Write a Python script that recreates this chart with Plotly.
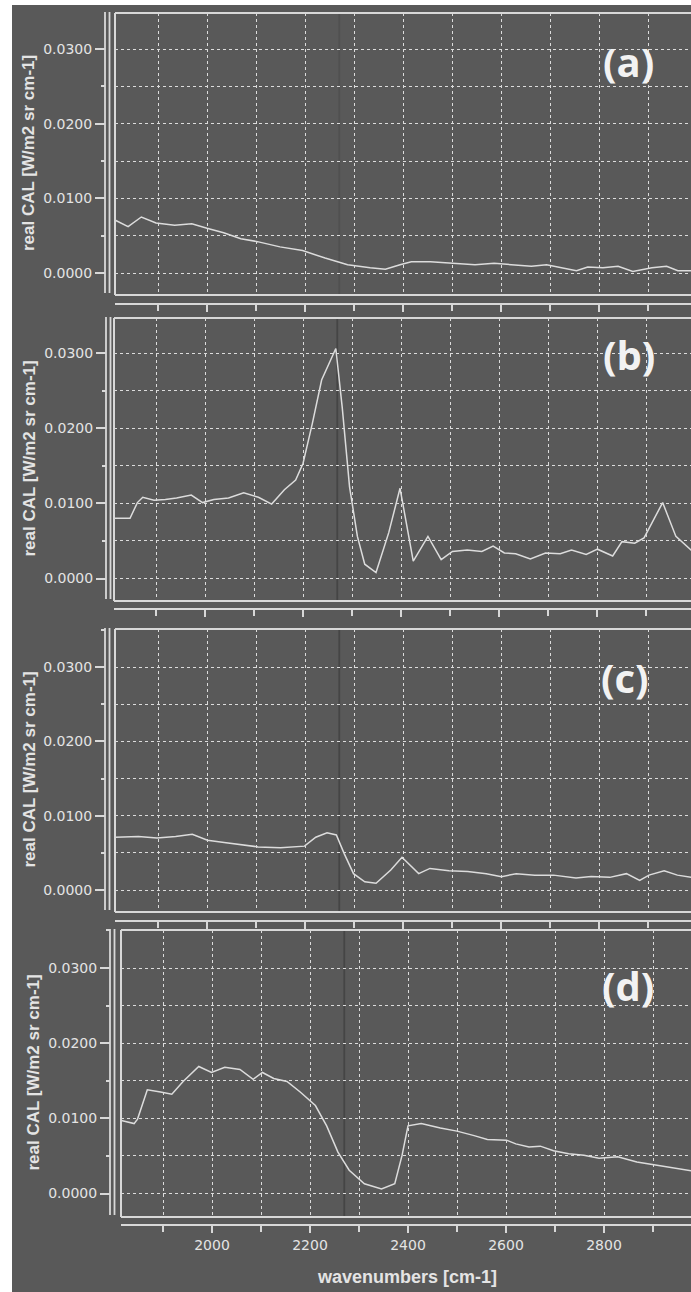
import plotly.graph_objects as go

# ---------------- data ----------------
wn_a = [1812, 1839, 1866, 1896, 1934, 1969, 2000, 2034, 2069, 2103, 2149, 2195, 2241, 2287,
        2333, 2364, 2394, 2417, 2456, 2502, 2547, 2586, 2624, 2662, 2693, 2724, 2754, 2777,
        2808, 2839, 2869, 2908, 2938, 2961, 2990]
val_a = [0.0071, 0.0062, 0.0075, 0.0067, 0.0064, 0.0066, 0.0060, 0.0054, 0.0046, 0.0042,
         0.0035, 0.0030, 0.0020, 0.0011, 0.0007, 0.0005, 0.0011, 0.0015, 0.0015, 0.0013,
         0.0011, 0.0013, 0.0011, 0.0009, 0.0011, 0.0007, 0.0003, 0.0008, 0.0007, 0.0009,
         0.0002, 0.0007, 0.0009, 0.0003, 0.0003]

wn_b = [1816, 1847, 1862, 1873, 1896, 1919, 1942, 1972, 1995, 2018, 2048, 2079, 2109, 2136,
        2162, 2185, 2200, 2219, 2238, 2267, 2280, 2295, 2311, 2326, 2349, 2375, 2398, 2425,
        2455, 2482, 2505, 2535, 2565, 2588, 2611, 2634, 2664, 2695, 2725, 2748, 2778, 2801,
        2832, 2851, 2877, 2896, 2934, 2961, 2995]
val_b = [0.0080, 0.0080, 0.0101, 0.0108, 0.0104, 0.0105, 0.0107, 0.0111, 0.0101, 0.0105,
         0.0107, 0.0114, 0.0108, 0.0099, 0.0118, 0.0131, 0.0153, 0.0206, 0.0264, 0.0306,
         0.0228, 0.0122, 0.0056, 0.0019, 0.0008, 0.0061, 0.0120, 0.0023, 0.0056, 0.0025,
         0.0036, 0.0038, 0.0036, 0.0043, 0.0034, 0.0033, 0.0026, 0.0034, 0.0033, 0.0038,
         0.0032, 0.0039, 0.0030, 0.0049, 0.0047, 0.0054, 0.0101, 0.0056, 0.0036]

wn_c = [1813, 1860, 1898, 1936, 1970, 2001, 2035, 2073, 2104, 2150, 2199, 2222, 2245, 2264,
        2280, 2299, 2322, 2345, 2375, 2398, 2432, 2455, 2494, 2532, 2570, 2601, 2631, 2669,
        2707, 2753, 2784, 2822, 2856, 2883, 2902, 2933, 2960, 2990]
val_c = [0.0071, 0.0072, 0.0070, 0.0072, 0.0075, 0.0067, 0.0064, 0.0061, 0.0058, 0.0057,
         0.0059, 0.0071, 0.0077, 0.0074, 0.0049, 0.0022, 0.0011, 0.0009, 0.0027, 0.0044,
         0.0022, 0.0029, 0.0026, 0.0025, 0.0022, 0.0018, 0.0022, 0.0020, 0.0020, 0.0016,
         0.0018, 0.0017, 0.0022, 0.0013, 0.0020, 0.0026, 0.0020, 0.0017]

wn_d = [1815, 1841, 1848, 1868, 1895, 1918, 1941, 1973, 1999, 2026, 2057, 2084, 2103, 2126,
        2153, 2180, 2211, 2234, 2257, 2280, 2311, 2346, 2373, 2388, 2400, 2427, 2466, 2500,
        2535, 2562, 2601, 2620, 2647, 2670, 2697, 2728, 2759, 2790, 2828, 2867, 2905, 2944,
        2980]
val_d = [0.0097, 0.0093, 0.0099, 0.0138, 0.0135, 0.0132, 0.0149, 0.0169, 0.0161, 0.0168,
         0.0165, 0.0152, 0.0161, 0.0153, 0.0149, 0.0135, 0.0117, 0.0090, 0.0055, 0.0031,
         0.0013, 0.0006, 0.0013, 0.0051, 0.0090, 0.0093, 0.0087, 0.0083, 0.0077, 0.0072,
         0.0071, 0.0066, 0.0062, 0.0063, 0.0057, 0.0053, 0.0051, 0.0047, 0.0049, 0.0042,
         0.0038, 0.0034, 0.0030]

panel_labels = ["(a)", "(b)", "(c)", "(d)"]
x_tick_vals = [2000, 2200, 2400, 2600, 2800]
y_title = "real CAL [W/m2 sr cm-1]"
x_title = "wavenumbers [cm-1]"
marker_wn = 2270

series_x = [wn_a, wn_b, wn_c, wn_d]
series_y = [val_a, val_b, val_c, val_d]

# ---------------- layout geometry (page pixels) ----------------
OX, OY = 12, 5
W, H = 691 - OX, 1292 - OY


def fx(px):
    return (px - OX) / W


def fy(py):
    return 1 - (py - OY) / H


box_left = [115, 114, 115, 121]
box_top = [13, 318, 629, 930]
box_bot = [295, 601, 912, 1217]
g1900 = [158, 156, 158, 163]
pxw = 0.49
yaxis_px = [105, 106, 105, 110]
xaxis_py = [304, 609, 921, 1225]
zero_py = [273, 578.5, 890, 1193.5]
y03_py = [49, 353, 667, 968]
label_pos = [(628, 61), (629, 354), (625, 677), (628, 985)]

BG = "#595959"
LINE = "#d8d8d8"
GRID = "#dcdcdc"
TXT = "#e4e4e4"
CURVE = "#dcdcdc"

fig = go.Figure()
shapes = []
annotations = []
layout = {}

for i in range(4):
    n = "" if i == 0 else str(i + 1)
    fig.add_trace(go.Scatter(x=series_x[i], y=series_y[i], mode="lines",
                             line=dict(color=CURVE, width=1.5),
                             xaxis="x" + n, yaxis="y" + n, showlegend=False,
                             hoverinfo="skip"))
    lo = 1900 - (g1900[i] - box_left[i]) / pxw
    hi = 1900 + (691 - g1900[i]) / pxw
    span = zero_py[i] - y03_py[i]
    ylo = -(box_bot[i] - zero_py[i]) / span * 0.03
    yhi = 0.03 + (y03_py[i] - box_top[i]) / span * 0.03
    layout["xaxis" + n] = dict(
        domain=[fx(box_left[i]), 1], range=[lo, hi], anchor="free",
        position=fy(xaxis_py[i]), showline=False, zeroline=False,
        ticks="outside", ticklen=7, tickwidth=1.5, tickcolor=LINE,
        tickmode="array", tickvals=x_tick_vals,
        showticklabels=(i == 3), tickfont=dict(family="DejaVu Sans", size=14, color=TXT),
        showgrid=True, gridcolor=GRID, gridwidth=1.3, griddash="3px,3px",
        minor=dict(tick0=1900, dtick=100, showgrid=True, gridcolor=GRID, gridwidth=1.3,
                   griddash="3px,3px", ticks="outside", ticklen=6, tickwidth=1.5,
                   tickcolor=LINE),
        fixedrange=True, automargin=False)
    layout["yaxis" + n] = dict(
        domain=[fy(box_bot[i]), fy(box_top[i])], range=[ylo, yhi], anchor="free",
        position=fx(yaxis_px[i]), side="left", showline=False, zeroline=False,
        ticks="outside", ticklen=10, tickwidth=1.5, tickcolor=LINE,
        tick0=0, dtick=0.01, tickformat=".4f",
        tickfont=dict(family="DejaVu Sans", size=14, color=TXT),
        showgrid=True, gridcolor=GRID, gridwidth=1.3, griddash="3px,3px",
        minor=dict(tick0=0, dtick=0.005, showgrid=True, gridcolor=GRID, gridwidth=1.3,
                   griddash="3px,3px", ticks="outside", ticklen=4, tickwidth=1.5,
                   tickcolor=LINE),
        fixedrange=True, automargin=False)

    # dark vertical marker line
    shapes.append(dict(type="line", xref="x" + n, yref="paper",
                       x0=marker_wn, x1=marker_wn, y0=fy(box_bot[i]), y1=fy(box_top[i]),
                       line=dict(color="#454545" if i > 0 else "#505050", width=1.8),
                       layer="below"))
    # box: top, left, bottom
    bl, bt, bb = fx(box_left[i]), fy(box_top[i]), fy(box_bot[i])
    for (x0, y0, x1, y1) in [(bl, bt, 1.01, bt), (bl, bb, bl, bt), (bl, bb, 1.01, bb)]:
        shapes.append(dict(type="line", xref="paper", yref="paper", x0=x0, y0=y0, x1=x1, y1=y1,
                           line=dict(color=LINE, width=2), layer="above"))
    # double y-axis line
    for dx in (0, 4.5):
        xx = fx(yaxis_px[i] + dx)
        shapes.append(dict(type="line", xref="paper", yref="paper", x0=xx, x1=xx,
                           y0=fy(box_bot[i] - 2), y1=fy(box_top[i] - 1),
                           line=dict(color=LINE, width=1.8), layer="above"))
    # x-axis line
    shapes.append(dict(type="line", xref="paper", yref="paper", x0=fx(box_left[i]), x1=1.01,
                       y0=fy(xaxis_py[i]), y1=fy(xaxis_py[i]),
                       line=dict(color=LINE, width=2), layer="above"))
    # y title
    annotations.append(dict(text="<b>" + y_title + "</b>", xref="paper", yref="paper",
                            x=fx(29 if i < 3 else 33), y=fy((box_top[i] + box_bot[i]) / 2 - 1),
                            textangle=-90, showarrow=False, xanchor="center", yanchor="middle",
                            font=dict(family="Liberation Sans", size=17, color=TXT)))
    # panel label
    lx, ly = label_pos[i]
    annotations.append(dict(text="<b>" + panel_labels[i] + "</b>", xref="paper", yref="paper",
                            x=fx(lx), y=fy(ly), showarrow=False, xanchor="center",
                            yanchor="middle",
                            font=dict(family="Open Sans", size=40, color="#f2f2f2")))

annotations.append(dict(text="<b>" + x_title + "</b>", xref="paper", yref="paper",
                        x=fx(407), y=fy(1277), showarrow=False, xanchor="center",
                        yanchor="middle",
                        font=dict(family="Liberation Sans", size=18, color=TXT)))

fig.update_layout(width=W, height=H, margin=dict(l=0, r=0, t=0, b=0, pad=0),
                  paper_bgcolor=BG, plot_bgcolor=BG, showlegend=False,
                  shapes=shapes, annotations=annotations, **layout)

fig.write_html("out.html", config={"displayModeBar": False},
               post_script="document.body.style.margin='5px 0 0 12px';"
                           "document.body.style.background='#ffffff';"
                           "document.body.style.overflow='hidden';")
